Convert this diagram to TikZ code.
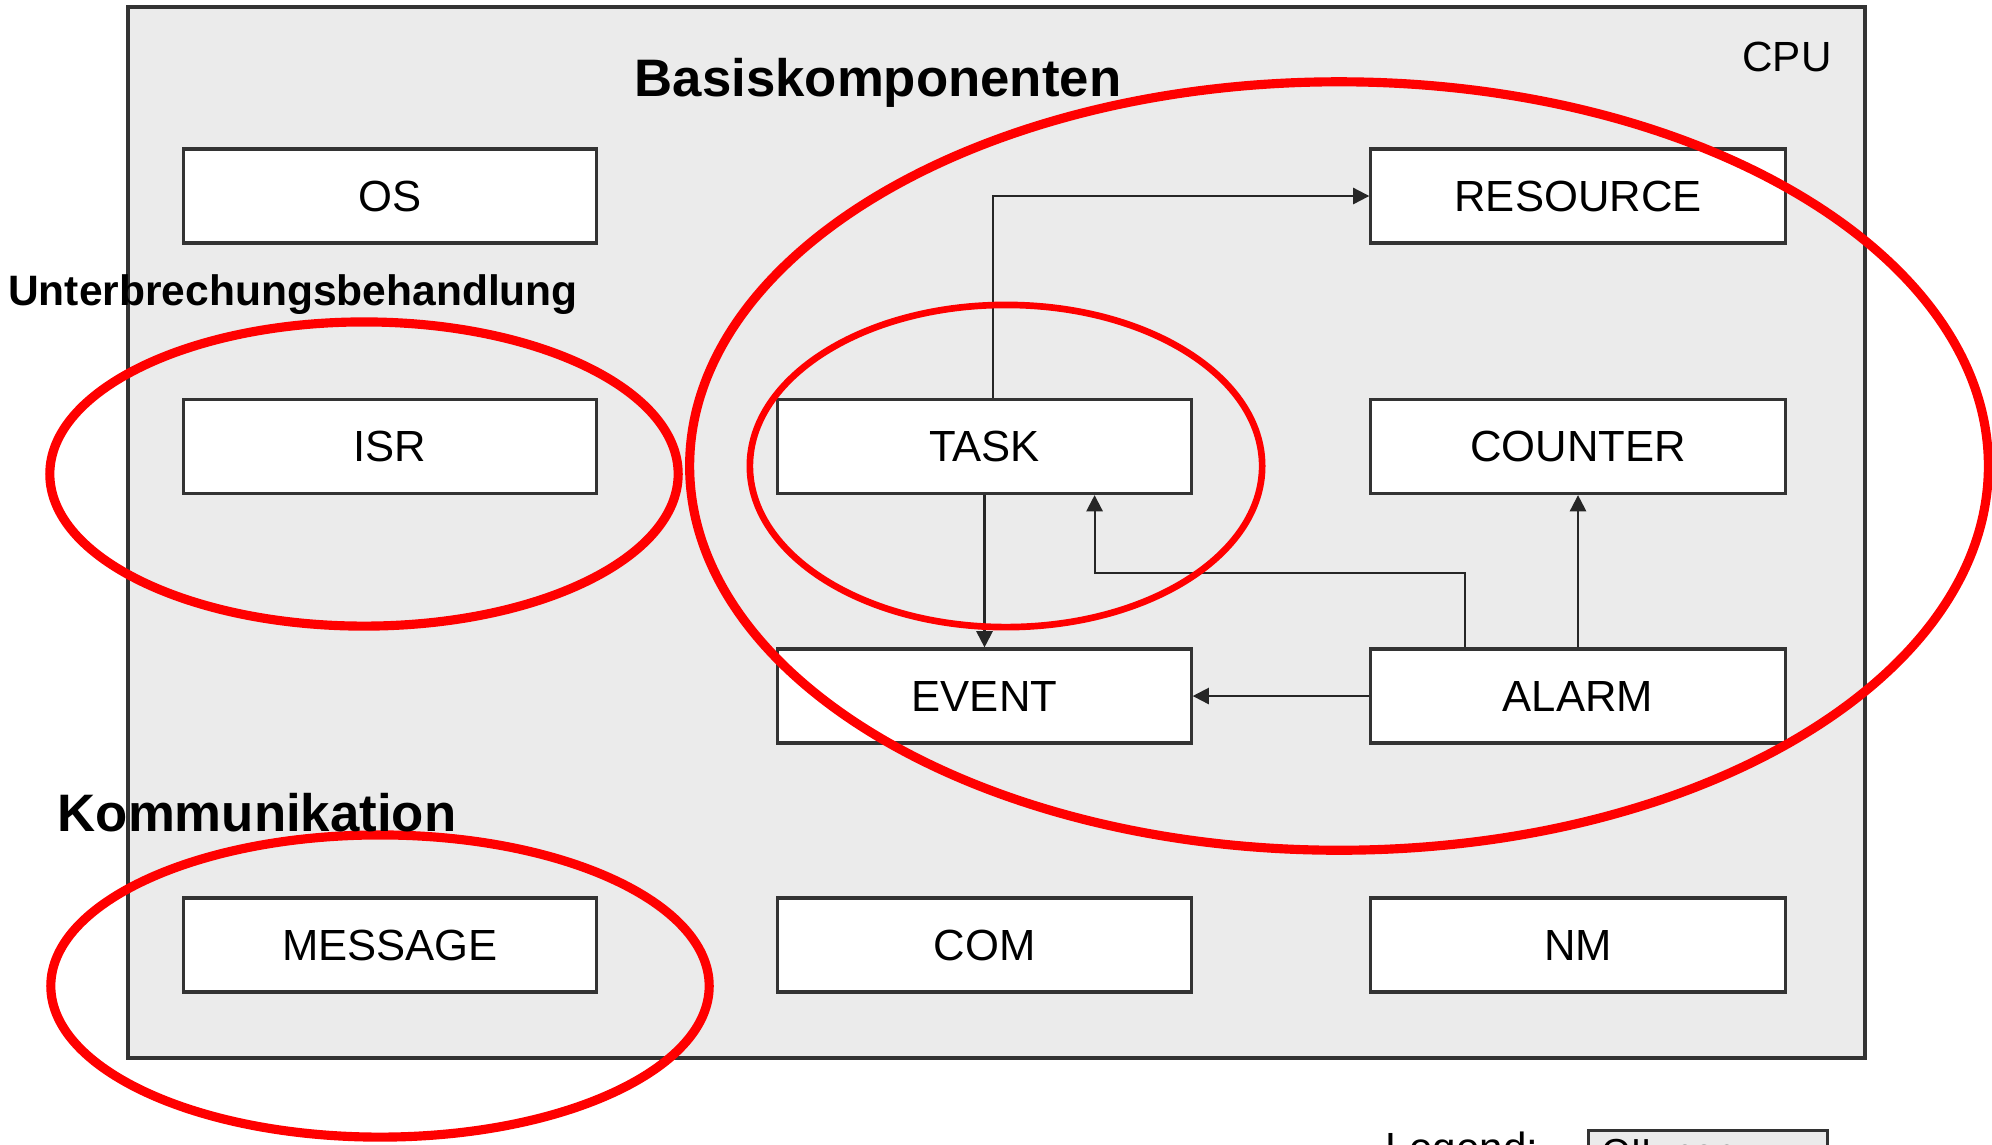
\documentclass[tikz,border=0pt]{standalone}
\usepackage{fontspec}
\setmainfont{Liberation Sans}
\usepackage{tikz}
\usetikzlibrary{arrows.meta}
\definecolor{cpugray}{HTML}{EBEBEB}
\definecolor{framegray}{HTML}{333333}

\begin{document}
\begin{tikzpicture}[x=0.01cm, y=-0.01cm,
		comp/.style={draw=framegray, line width=0.9pt, fill=white, minimum width=4.13cm, minimum height=0.94cm, inner sep=0pt, font=\fontsize{12.4}{14}\selectfont},
		conn/.style={draw=black!85, line width=0.6pt, -{Triangle[length=4.6pt, width=4.6pt]}},
		group/.style={red, line width=2.6pt},
		heading/.style={font=\bfseries\fontsize{15}{18}\selectfont}]
				\useasboundingbox (0,0) rectangle (1992,1144);
				\fill[white] (0,0) rectangle (1992,1144);
				% cpu frame
				\draw[framegray, fill=cpugray, line width=1.2pt] (128,7) rectangle (1865,1058);
				\node[font=\fontsize{12}{14}\selectfont] (cpu) at (1787,57) {CPU};
				% components
				\node[comp] (os) at (390,196) {OS};
				\node[comp] (isr) at (390,446.5) {ISR};
				\node[comp] (message) at (390,945) {MESSAGE};
				\node[comp] (task) at (984.5,446.5) {TASK};
				\node[comp] (event) at (984.5,696) {EVENT};
				\node[comp] (com) at (984.5,945) {COM};
				\node[comp, minimum width=4.14cm] (resource) at (1578,196) {RESOURCE};
				\node[comp, minimum width=4.14cm] (counter) at (1578,446.5) {COUNTER};
				\node[comp, minimum width=4.14cm] (alarm) at (1578,696) {ALARM};
				\node[comp, minimum width=4.14cm] (nm) at (1578,945) {NM};
				% relations
				\draw[conn] ([xshift=0.85mm]task.north) |- (resource.west);
				\draw[conn] (task) -- (event);
				\draw[conn] ([xshift=-11.3mm]alarm.north) |- ([xshift=11mm, yshift=-7.8mm]task.south) -- ([xshift=11mm]task.south);
				\draw[conn] (alarm) -- (counter);
				\draw[conn] (alarm) -- (event);
				% groups
				\draw[group] (1339,466) ellipse [x radius=6.49cm, y radius=3.84cm];
				\draw[group, line width=1.9pt] (1006,466) ellipse [x radius=2.56cm, y radius=1.61cm];
				\draw[group] (364,474) ellipse [x radius=3.14cm, y radius=1.52cm];
				\draw[group] (380,986) ellipse [x radius=3.29cm, y radius=1.51cm];
				% labels
				\node[heading] (basis) at (878,83) {Basiskomponenten};
				\node[heading, font=\bfseries\fontsize{12.1}{14}\selectfont] (unterbr) at (293,295) {Unterbrechungsbehandlung};
				\node[heading] (komm) at (257,813) {Kommunikation};
				% legend
				\node[anchor=base west, inner sep=0pt, font=\fontsize{12}{14}\selectfont] (legend) at (1385,1162) {Legend:};
				\node[anchor=north west, draw=framegray, fill=cpugray, line width=0.9pt, text width=2.13cm, inner xsep=1.3mm, inner ysep=0.9mm, align=left, font=\fontsize{10.7}{13}\selectfont] (legbox) at (1587,1129) {OIL container};
			\end{tikzpicture}
\end{document}
